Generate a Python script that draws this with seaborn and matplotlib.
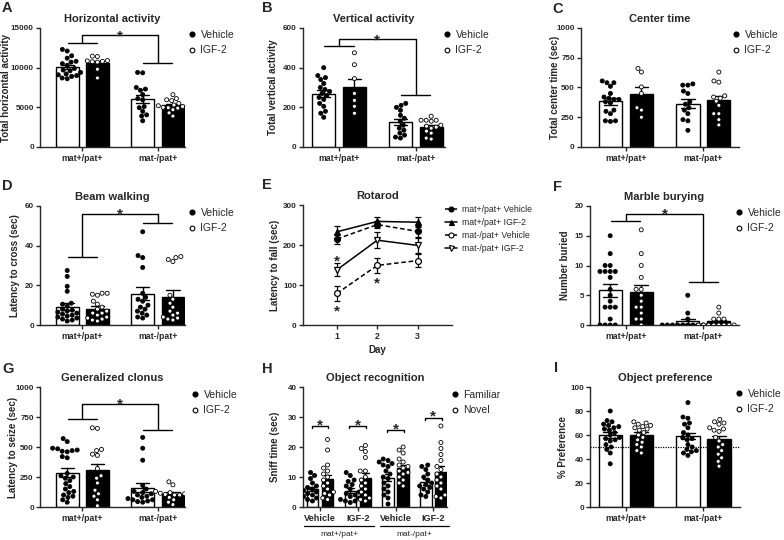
import matplotlib
matplotlib.use("Agg")
import matplotlib.pyplot as plt
from matplotlib.lines import Line2D
import pandas as pd
import seaborn as sns

sns.set_style("ticks")
plt.rcParams["font.family"] = ["Liberation Sans", "DejaVu Sans"]
plt.rcParams["font.weight"] = "bold"
plt.rcParams["axes.labelweight"] = "bold"
plt.rcParams["axes.titleweight"] = "bold"
plt.rcParams["axes.linewidth"] = 1.0
plt.rcParams["xtick.major.size"] = 3
plt.rcParams["ytick.major.size"] = 3
plt.rcParams["xtick.major.width"] = 1.0
plt.rcParams["ytick.major.width"] = 1.0
plt.rcParams["xtick.major.pad"] = 2
plt.rcParams["ytick.major.pad"] = 1.5

GENOTYPES = ["mat+/pat+", "mat-/pat+"]
TREATMENTS = ["Vehicle", "IGF-2"]
OBJECTS = ["Familiar", "Novel"]

# A. Horizontal activity
horiz_wt_veh = [12300, 12100, 11500, 11200, 10800, 10700, 10500, 10300, 9900, 9700, 9600, 9400, 9200, 9100, 9000, 8900, 8700, 8600]
horiz_wt_igf = [11450, 11400, 10900, 10850, 10800, 10750, 10700, 9800, 8700]
horiz_mut_veh = [9400, 9350, 7500, 7300, 7150, 6600, 6100, 5950, 5100, 4950, 4500, 4050, 3900, 3300]
horiz_mut_igf = [6600, 6100, 5950, 5850, 5500, 5300, 5200, 5100, 5000, 4950, 4900, 4700, 4300, 3900]
horiz_bracket = [13070, 14120, 10550, 14490]   # left arm, top, right arm, star

# B. Vertical activity
vert_wt_veh = [400, 360, 350, 340, 320, 300, 290, 280, 270, 260, 250, 240, 220, 205, 180, 170, 150]
vert_wt_igf = [475, 415, 345, 270, 235, 205, 170]
vert_mut_veh = [220, 210, 200, 185, 160, 145, 130, 110, 95, 85, 70, 60, 50, 45]
vert_mut_igf = [155, 135, 135, 135, 130, 110, 105, 100, 95, 80, 70, 45, 40]
vert_bracket = [511, 543, 261, 560]

# C. Center time
center_wt_veh = [555, 540, 540, 510, 450, 420, 410, 400, 400, 380, 370, 310, 300, 280, 220, 220, 215]
center_wt_igf = [660, 630, 505, 450, 330, 310, 250]
center_mut_veh = [530, 520, 520, 470, 450, 380, 360, 330, 310, 280, 230, 220, 140]
center_mut_igf = [630, 555, 545, 430, 420, 410, 385, 350, 280, 280, 230, 185]

# D. Beam walking
beam_wt_veh = [27.5, 24.5, 19.5, 17, 11, 10.5, 9.5, 8, 7.5, 7, 6.5, 6, 5.5, 5, 4.5, 4, 3.5, 3, 2.5, 2]
beam_wt_igf = [16, 16, 15.5, 15, 12, 10.5, 9, 8, 7, 6, 6, 5, 4, 3.5, 3, 2.5, 2]
beam_mut_veh = [47, 35, 34, 29, 16, 14, 13, 12, 10, 9, 8, 7, 6, 5, 4, 3.5]
beam_mut_igf = [34.5, 34, 33, 32, 15, 13, 11, 9, 7, 6, 5, 4, 3.5, 3, 2.5]
beam_bracket = [34.4, 55.8, 51.6, 57.8]

# E. Rotarod (mean, SEM per day)
rot_days = [1, 2, 3]
rot_labels = ["mat+/pat+ Vehicle", "mat+/pat+ IGF-2", "mat-/pat+ Vehicle", "mat-/pat+ IGF-2"]
rot_wt_veh = [215, 251, 234]
rot_wt_veh_sem = [12, 9, 14]
rot_wt_igf = [233, 259, 257]
rot_wt_igf_sem = [15, 10, 13]
rot_mut_veh = [79, 149, 161]
rot_mut_veh_sem = [18, 19, 17]
rot_mut_igf = [138, 212, 199]
rot_mut_igf_sem = [16, 20, 19]
rot_star_days = [1, 1, 2]
rot_star_y = [168, 45, 113]

# F. Marble burying
marble_wt_veh = [15, 12, 10, 10, 9, 9, 9, 9, 8, 6, 5, 4, 3, 3, 3, 1, 0, 0, 0, 0]
marble_wt_igf = [16, 12, 10, 8, 6, 6, 5, 4, 3, 3, 2, 1, 1, 0]
marble_mut_veh = [5, 2, 1, 0, 0, 0, 0, 0, 0, 0, 0, 0, 0]
marble_mut_igf = [3, 2, 1, 1, 1, 0, 0, 0, 0, 0, 0, 0, 0]
marble_bracket = [17.5, 18.6, 7.3, 19.3]

# G. Generalized clonus
clonus_wt_veh = [570, 545, 490, 485, 475, 470, 465, 460, 420, 410, 280, 260, 250, 240, 220, 195, 170, 150, 130, 120, 100, 90, 80, 60, 40]
clonus_wt_igf = [660, 655, 480, 470, 440, 430, 320, 260, 240, 200, 140, 110, 90, 60, 10]
clonus_mut_veh = [580, 490, 390, 180, 150, 130, 120, 110, 100, 90, 80, 70, 60, 60, 50, 45, 40]
clonus_mut_igf = [210, 185, 130, 130, 120, 115, 110, 105, 100, 100, 80, 60, 40, 20]
clonus_bracket = [736, 856, 639, 885]

# H. Object recognition
sniff_groups = ["wt Vehicle", "wt IGF-2", "mut Vehicle", "mut IGF-2"]
sniff_wt_veh_fam = [11.5, 10.5, 9.5, 8, 7, 6.5, 6, 5.5, 5, 4.5, 4, 3.5, 3, 2.5, 2]
sniff_wt_veh_nov = [22.5, 19, 14, 13, 12, 11, 10, 9, 8, 7, 6, 5, 4.5, 4, 3, 2.5]
sniff_wt_igf_fam = [11.5, 10.5, 9, 8.5, 7.5, 7, 6, 5, 4.5, 4, 3.5, 3, 2.5, 2, 2, 1.5]
sniff_wt_igf_nov = [20.5, 19.5, 18.5, 16.5, 12, 12, 10, 9, 8, 7, 6, 5, 4, 3, 2.5, 2]
sniff_mut_veh_fam = [16, 15.5, 15, 14.5, 14, 13.5, 12, 11, 10, 9.5, 8, 7, 6, 5, 4, 3, 1]
sniff_mut_veh_nov = [20, 19, 18, 16, 15, 14, 13.5, 13, 12, 11.5, 11, 10, 9, 8, 7]
sniff_mut_igf_fam = [14, 13.5, 12.5, 11, 10, 9, 8, 7.5, 7, 6.5, 6, 5, 4, 3.5]
sniff_mut_igf_nov = [27, 21.5, 19.5, 17.5, 15.5, 13.5, 12.5, 11, 10, 9, 8, 7, 6, 4, 3.5, 3]
sniff_brackets = [27.1, 27.1, 25.7, 29.8]

# I. Object preference
pref_wt_veh = [80, 72, 71, 69, 68, 67, 66, 65, 64, 62, 60, 58, 57, 56, 55, 52, 50, 48, 45, 36]
pref_wt_igf = [71, 70, 69, 68, 67, 66, 65, 64, 62, 60, 58, 56, 54, 52, 50, 47, 45]
pref_mut_veh = [87, 75, 74, 70, 69, 66, 62, 60, 58, 57, 56, 52, 50, 48, 47, 46, 45, 43]
pref_mut_igf = [73, 71, 70, 69, 66, 65, 64, 63, 58, 55, 52, 50, 47, 44, 41, 38, 34]
pref_chance = 50

W, H = 784, 540
fig = plt.figure(figsize=(W / 100, H / 100), dpi=100)


def px_axes(left, top, right, bottom):
    return fig.add_axes([left / W, 1 - bottom / H, (right - left) / W, (bottom - top) / H])


def place_ylabel(ax, center_px):
    # put the y label's centre at a given figure x (pixels)
    bb = ax.get_position()
    left, width = bb.x0 * W, bb.width * W
    ax.yaxis.set_label_coords((center_px + 5.5 - left) / width, 0.5)


def long_df(entries):
    rows = []
    for grp, hue, vals in entries:
        rows += [(grp, hue, v) for v in vals]
    return pd.DataFrame(rows, columns=["group", "hue", "value"])


def bar_panel(ax, df, order, hue_order, title, ylabel, xlim, yticks):
    sns.barplot(data=df, x="group", y="value", hue="hue", order=order, hue_order=hue_order,
                palette=["white", "black"], saturation=1, edgecolor="black", linewidth=1.0,
                errorbar="se", capsize=0.35, err_kws={"color": "black", "linewidth": 1.0},
                gap=0.25, legend=False, ax=ax)
    sns.swarmplot(data=df, x="group", y="value", hue="hue", order=order, hue_order=hue_order,
                  palette=["black", "white"], edgecolor="black", linewidth=0.6, size=2.9,
                  dodge=True, legend=False, warn_thresh=1, ax=ax)
    ax.set_xlim(xlim)
    ax.set_ylim(yticks[0], yticks[-1])
    ax.set_yticks(yticks)
    ax.set_xlabel("")
    ax.set_ylabel(ylabel, fontsize=7)
    ax.set_title(title, fontsize=8, pad=4)
    ax.tick_params(axis="y", labelsize=5.8)
    ax.tick_params(axis="x", labelsize=6.3)
    sns.despine(ax=ax)


def marker_legend(ax, labels, xpx, ypx):
    handles = [Line2D([], [], marker="o", ls="none", mfc="black", mec="black", ms=3.4),
               Line2D([], [], marker="o", ls="none", mfc="white", mec="black", ms=3.4, mew=0.8)]
    ax.legend(handles, labels, loc="upper left", bbox_to_anchor=(xpx / W, 1 - ypx / H),
              bbox_transform=fig.transFigure, frameon=False, borderpad=0, borderaxespad=0,
              handlelength=0.6, handletextpad=0.5, labelspacing=0.5,
              prop={"size": 7.5, "weight": "normal"})


def star(ax, x, y, size=11):
    ax.annotate("*", (x, y), xytext=(0, -3), textcoords="offset points",
                ha="center", va="center", fontsize=size, fontweight="bold")


def group_bracket(ax, b, half=0.19):
    y_left, y_top, y_right, y_star = b
    kw = dict(color="black", lw=1.0, clip_on=False)
    ax.plot([-half, half], [y_left, y_left], **kw)
    ax.plot([0, 0, 1, 1], [y_left, y_top, y_top, y_right], **kw)
    ax.plot([1 - half, 1 + half], [y_right, y_right], **kw)
    star(ax, 0.5, y_star)


def two_group(a, b, c, d):
    return long_df([(GENOTYPES[0], TREATMENTS[0], a), (GENOTYPES[0], TREATMENTS[1], b),
                    (GENOTYPES[1], TREATMENTS[0], c), (GENOTYPES[1], TREATMENTS[1], d)])


# A
ax = px_axes(40, 28, 185, 147)
bar_panel(ax, two_group(horiz_wt_veh, horiz_wt_igf, horiz_mut_veh, horiz_mut_igf), GENOTYPES, TREATMENTS,
          "Horizontal activity", "Total horizontal activity", (-0.56, 1.36), [0, 5000, 10000, 15000])
group_bracket(ax, horiz_bracket)
marker_legend(ax, TREATMENTS, 189, 30)
place_ylabel(ax, 6)

# B
ax = px_axes(303, 28, 445, 147)
bar_panel(ax, two_group(vert_wt_veh, vert_wt_igf, vert_mut_veh, vert_mut_igf), GENOTYPES, TREATMENTS,
          "Vertical activity", "Total vertical activity", (-0.47, 1.38), [0, 200, 400, 600])
group_bracket(ax, vert_bracket)
marker_legend(ax, TREATMENTS, 444, 30)
place_ylabel(ax, 272)

# C
ax = px_axes(581, 28, 739, 147)
bar_panel(ax, two_group(center_wt_veh, center_wt_igf, center_mut_veh, center_mut_igf), GENOTYPES, TREATMENTS,
          "Center time", "Total center time (sec)", (-0.58, 1.46), [0, 250, 500, 750, 1000])
marker_legend(ax, TREATMENTS, 733, 30)
place_ylabel(ax, 555)

# D
ax = px_axes(40, 206, 185, 325)
bar_panel(ax, two_group(beam_wt_veh, beam_wt_igf, beam_mut_veh, beam_mut_igf), GENOTYPES, TREATMENTS,
          "Beam walking", "Latency to cross (sec)", (-0.56, 1.36), [0, 20, 40, 60])
group_bracket(ax, beam_bracket)
marker_legend(ax, TREATMENTS, 189, 208)
place_ylabel(ax, 15)

# E
ax = px_axes(303, 205, 452, 325)
rot_series = [(rot_wt_veh, rot_wt_veh_sem, "o", "black", "--"),
              (rot_wt_igf, rot_wt_igf_sem, "^", "black", "-"),
              (rot_mut_veh, rot_mut_veh_sem, "o", "white", "--"),
              (rot_mut_igf, rot_mut_igf_sem, "v", "white", "-")]
handles = []
for (mean, sem, mk, fc, ls), lab in zip(rot_series, rot_labels):
    ax.errorbar(rot_days, mean, yerr=sem, color="black", ls=ls, lw=1.1, dashes=(3, 1.8) if ls == "--" else (None, None),
                marker=mk, ms=4.2, mfc=fc, mec="black", mew=0.9, capsize=2.5, elinewidth=0.9, capthick=0.9)
    handles.append(Line2D([], [], color="black", ls=ls, lw=1.1, marker=mk, ms=3.6, mfc=fc, mec="black", mew=0.8))
for d, y in zip(rot_star_days, rot_star_y):
    star(ax, d, y)
ax.set_xlim(0.16, 3.85)
ax.set_ylim(0, 300)
ax.set_xticks(rot_days)
ax.set_yticks([0, 100, 200, 300])
ax.set_xlabel("Day", fontsize=7, labelpad=3)
ax.set_ylabel("Latency to fall (sec)", fontsize=7)
ax.set_title("Rotarod", fontsize=8, pad=4)
ax.tick_params(axis="y", labelsize=5.8)
ax.tick_params(axis="x", labelsize=6.3)
sns.despine(ax=ax)
ax.legend(handles, rot_labels, loc="upper left", bbox_to_anchor=(445 / W, 1 - 205 / H),
          bbox_transform=fig.transFigure, frameon=False, borderpad=0, borderaxespad=0,
          handlelength=1.4, handletextpad=0.6, labelspacing=0.45, prop={"size": 6.3, "weight": "normal"})
place_ylabel(ax, 275)

# F
ax = px_axes(590, 206, 739, 325)
bar_panel(ax, two_group(marble_wt_veh, marble_wt_igf, marble_mut_veh, marble_mut_igf), GENOTYPES, TREATMENTS,
          "Marble burying", "Number buried", (-0.46, 1.46), [0, 5, 10, 15, 20])
group_bracket(ax, marble_bracket)
marker_legend(ax, TREATMENTS, 736, 208)
place_ylabel(ax, 564)

# G
ax = px_axes(40, 387, 185, 507)
bar_panel(ax, two_group(clonus_wt_veh, clonus_wt_igf, clonus_mut_veh, clonus_mut_igf), GENOTYPES, TREATMENTS,
          "Generalized clonus", "Latency to seize (sec)", (-0.56, 1.36), [0, 250, 500, 750, 1000])
group_bracket(ax, clonus_bracket)
marker_legend(ax, TREATMENTS, 192, 390)
place_ylabel(ax, 13)

# H
ax = px_axes(303, 387, 447, 507)
sniff_df = long_df([(sniff_groups[0], OBJECTS[0], sniff_wt_veh_fam), (sniff_groups[0], OBJECTS[1], sniff_wt_veh_nov),
                    (sniff_groups[1], OBJECTS[0], sniff_wt_igf_fam), (sniff_groups[1], OBJECTS[1], sniff_wt_igf_nov),
                    (sniff_groups[2], OBJECTS[0], sniff_mut_veh_fam), (sniff_groups[2], OBJECTS[1], sniff_mut_veh_nov),
                    (sniff_groups[3], OBJECTS[0], sniff_mut_igf_fam), (sniff_groups[3], OBJECTS[1], sniff_mut_igf_nov)])
bar_panel(ax, sniff_df, sniff_groups, OBJECTS, "Object recognition", "Sniff time (sec)",
          (-0.45, 3.36), [0, 10, 20, 30, 40])
ax.set_xticks(range(4))
ax.set_xticklabels(TREATMENTS * 2, fontsize=6.6)
for i, y in enumerate(sniff_brackets):
    ax.plot([i - 0.22, i - 0.22, i + 0.22, i + 0.22], [y - 0.8, y, y, y - 0.8], color="black", lw=1.0)
    star(ax, i, y + 1.6)
tr = ax.get_xaxis_transform()
for k, geno in enumerate(GENOTYPES):
    c = 0.5 + 2 * k
    ax.plot([c - 0.92, c + 0.92], [-0.158, -0.158], color="black", lw=0.9, transform=tr, clip_on=False)
    ax.text(c, -0.225, geno, transform=tr, ha="center", va="center", fontsize=6, fontweight="normal")
marker_legend(ax, OBJECTS, 452, 390)
place_ylabel(ax, 275)

# I
ax = px_axes(590, 387, 740, 507)
bar_panel(ax, two_group(pref_wt_veh, pref_wt_igf, pref_mut_veh, pref_mut_igf), GENOTYPES, TREATMENTS,
          "Object preference", "% Preference", (-0.46, 1.47), [0, 20, 40, 60, 80, 100])
ax.axhline(pref_chance, color="black", lw=0.9, ls=(0, (1, 1)))
marker_legend(ax, TREATMENTS, 736, 389)
place_ylabel(ax, 562)

# panel letters
for letter, (x, y) in zip("ABCDEFGHI", [(2, 1), (262, 1), (552, 2), (2, 179), (262, 178), (553, 180),
                                        (2, 362), (262, 362), (554, 361)]):
    fig.text(x / W, 1 - y / H, letter, ha="left", va="top", fontsize=10.5, fontweight="bold")

fig.savefig("out.png", dpi=100)
